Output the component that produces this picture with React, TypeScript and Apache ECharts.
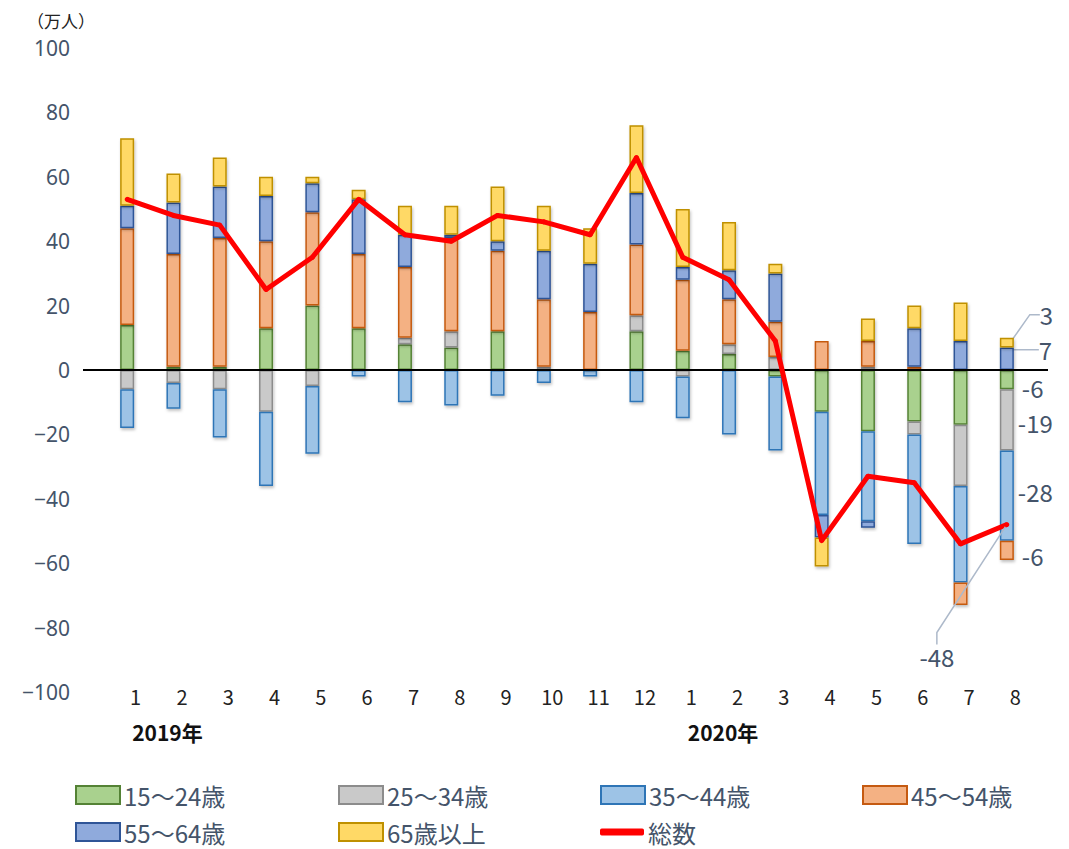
import React, { useEffect, useRef } from "react";
import * as echarts from "echarts";

const months = ["1", "2", "3", "4", "5", "6", "7", "8", "9", "10", "11", "12", "1", "2", "3", "4", "5", "6", "7", "8"];
const yearLabels = ["2019年", "", "", "", "", "", "", "", "", "", "", "", "2020年", "", "", "", "", "", "", ""];

const age15_24 = [14, 1, 1, 13, 20, 13, 8, 7, 12, 0, 0, 12, 6, 5, -2, -13, -19, -16, -17, -6];
const age25_34 = [-6, -4, -6, -13, -5, 0, 2, 5, 0, 1, 0, 5, -2, 3, 4, 0, 1, -4, -19, -19];
const age35_44 = [-12, -8, -15, -23, -21, -2, -10, -11, -8, -4, -2, -10, -13, -20, -23, -32, -28, -34, -30, -28];
const age45_54 = [30, 35, 40, 27, 29, 23, 22, 29, 25, 21, 18, 22, 22, 14, 11, 9, 8, 1, -7, -6];
const age55_64 = [7, 16, 16, 14, 9, 17, 10, 1, 3, 15, 15, 16, 4, 9, 15, -7, -2, 12, 9, 7];
const age65 = [21, 9, 9, 6, 2, 3, 9, 9, 17, 14, 11, 21, 18, 15, 3, -9, 7, 7, 12, 3];
const total = [53, 48, 45, 25, 35, 53, 42, 40, 48, 46, 42, 66, 35, 28, 9, -53, -33, -35, -54, -48];

const seriesNames = ["15～24歳", "25～34歳", "35～44歳", "45～54歳", "55～64歳", "65歳以上", "総数"];

const TEXT = "#44546A";
const LEADER = "#ADB9CA";
const JP = "'Noto Sans CJK JP', 'Noto Sans', sans-serif";

export default function App() {
  const ref = useRef<HTMLDivElement>(null);

  useEffect(() => {
    document.body.style.margin = "0";
    if (!ref.current) return;
    const chart = echarts.init(ref.current, undefined, { renderer: "svg" });
    const last = months.length - 1;

    const labelStyle = { color: TEXT, fontSize: 24, fontFamily: JP };

    const makeBar = (
      name: string,
      data: number[],
      fill: string,
      border: string,
      dx: number,
      dy: number,
      leader: boolean
    ) => ({
      name,
      type: "bar",
      stack: "age",
      barWidth: 14,
      data: data.map((v, i) =>
        i === last
          ? { value: v, label: { show: true, position: "right", distance: 5, formatter: "{c}", ...labelStyle } }
          : v
      ),
      itemStyle: {
        color: fill,
        borderColor: border,
        borderWidth: 1.5,
        shadowBlur: 3,
        shadowOffsetX: 1,
        shadowOffsetY: 2,
        shadowColor: "rgba(0,0,0,0.25)",
      },
      labelLayout: () => ({ dx, dy }),
      labelLine: { show: leader, length2: 10, lineStyle: { color: LEADER, width: 1.5 } },
      z: 2,
    });

    const legendPos = [
      [75, 783],
      [338, 783],
      [600, 783],
      [862, 783],
      [75, 820],
      [338, 820],
      [600, 820],
    ];

    const legends = seriesNames.map((n, i) => ({
      data: [{ name: n, icon: n === "総数" ? "roundRect" : "rect" }],
      left: legendPos[i][0],
      top: legendPos[i][1],
      padding: 0,
      itemWidth: 44,
      itemHeight: n === "総数" ? 7 : 18,
      itemGap: 0,
      itemStyle: { shadowBlur: 0, shadowOffsetX: 0, shadowOffsetY: 0, shadowColor: "transparent" },
      textStyle: { color: TEXT, fontSize: 24, lineHeight: 24, fontFamily: JP, padding: [0, 0, 0, -1] },
      selectedMode: false,
    }));

    const option: any = {
      animation: false,
      textStyle: { fontFamily: JP },
      title: {
        text: "（万人）",
        left: 22,
        top: 7,
        textStyle: { fontSize: 17, fontWeight: "normal", color: "#222", fontFamily: JP },
      },
      legend: legends,
      grid: { left: 104, right: 39, top: 48, bottom: 157 },
      xAxis: [
        {
          type: "category",
          data: months,
          axisLine: { show: false, onZero: false },
          axisTick: { show: false },
          axisLabel: {
            interval: 0,
            margin: -6,
            fontSize: 20,
            color: "#222",
            fontFamily: JP,
            padding: [0, 0, 0, 17],
          },
        },
        {
          type: "category",
          data: months,
          position: "bottom",
          axisLine: { show: false, onZero: false },
          axisTick: { show: false },
          axisLabel: {
            interval: 0,
            margin: 29,
            align: "left",
            fontSize: 21,
            fontWeight: "bold",
            color: "#111",
            fontFamily: JP,
            padding: [0, 0, 0, 5],
            formatter: (_v: string, i: number) => yearLabels[i],
          },
        },
      ],
      yAxis: {
        type: "value",
        min: -100,
        max: 100,
        interval: 20,
        splitLine: { show: false },
        axisLine: { show: false },
        axisTick: { show: false },
        axisLabel: {
          margin: 34,
          fontSize: 21,
          color: TEXT,
          fontFamily: "'Noto Sans', sans-serif",
          formatter: (v: number) => (v < 0 ? "−" + Math.abs(v) : String(v)),
        },
      },
      series: [
        makeBar(seriesNames[0], age15_24, "#A9D18E", "#548235", 3, 8, false),
        makeBar(seriesNames[1], age25_34, "#C9C9C9", "#8C8C8C", -1, 3, false),
        makeBar(seriesNames[2], age35_44, "#9DC3E6", "#2E75B6", -1, -4, false),
        makeBar(seriesNames[3], age45_54, "#F4B183", "#C55A11", 3, 5, false),
        makeBar(seriesNames[4], age55_64, "#8FAADC", "#2F5597", 20, -9, true),
        makeBar(seriesNames[5], age65, "#FFD966", "#BF9000", 21, -28, true),
        {
          name: seriesNames[6],
          type: "line",
          data: total.map((v, i) =>
            i === last
              ? { value: v, label: { show: true, position: "left", distance: 5, formatter: "{c}", ...labelStyle } }
              : v
          ),
          symbol: "circle",
          symbolSize: 5,
          showSymbol: true,
          lineStyle: { color: "#FF0000", width: 5 },
          itemStyle: { color: "#FF0000" },
          labelLayout: () => ({ dx: -45, dy: 132 }),
          labelLine: { show: true, length2: 12, lineStyle: { color: LEADER, width: 1.5 } },
          z: 10,
        },
      ],
    };

    chart.setOption(option);
    const y0 = chart.convertToPixel({ yAxisIndex: 0 }, 0) as number;
    chart.setOption({
      graphic: [
        {
          type: "line",
          shape: { x1: 83, y1: y0, x2: 1048, y2: y0 },
          style: { stroke: "#000", lineWidth: 2 },
          z: 5,
        },
      ],
    });

    return () => chart.dispose();
  }, []);

  return <div ref={ref} style={{ width: "1069px", height: "849px" }} />;
}
